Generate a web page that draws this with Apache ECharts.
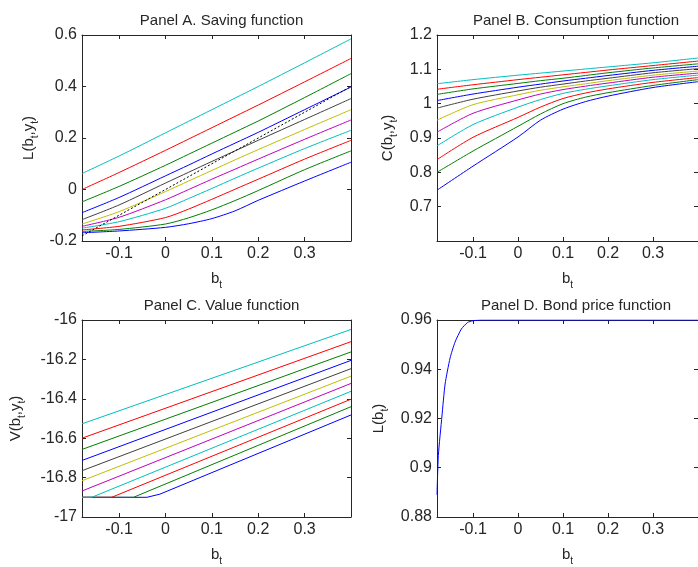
<!DOCTYPE html>
<html>
<head>
<meta charset="utf-8">
<script src="https://cdn.jsdelivr.net/npm/echarts@6/dist/echarts.min.js"></script>
<style>
  html, body { margin: 0; padding: 0; background: #fff; }
  #chart { width: 698px; height: 567px; }
</style>
</head>
<body>
<div id="chart"></div>
<script>
// shared grid of b_t values for panels A and B
const bGrid = [-0.18, -0.1, 0, 0.05, 0.1, 0.15, 0.2, 0.3, 0.4]
const xTicks = [-0.1, 0, 0.1, 0.2, 0.3]

// Panel A: saving function, one row per income state (bottom -> top)
const savingCurves = [
  [-0.168, -0.161, -0.147, -0.133, -0.113, -0.083, -0.042, 0.033, 0.106],
  [-0.163, -0.155, -0.134, -0.110, -0.079, -0.043, -0.004, 0.077, 0.150],
  [-0.157, -0.143, -0.109, -0.076, -0.038, 0.001, 0.040, 0.118, 0.191],
  [-0.150, -0.125, -0.073, -0.035, 0.004, 0.044, 0.083, 0.159, 0.230],
  [-0.143, -0.108, -0.040, 0.000, 0.040, 0.079, 0.118, 0.195, 0.270],
  [-0.134, -0.086, -0.008, 0.033, 0.074, 0.115, 0.155, 0.233, 0.310],
  [-0.117, -0.060, 0.025, 0.067, 0.109, 0.150, 0.191, 0.272, 0.353],
  [-0.090, -0.031, 0.053, 0.095, 0.138, 0.180, 0.222, 0.310, 0.398],
  [-0.048, 0.012, 0.094, 0.137, 0.180, 0.223, 0.266, 0.357, 0.450],
  [0.000, 0.066, 0.152, 0.196, 0.240, 0.284, 0.328, 0.418, 0.509],
  [0.062, 0.130, 0.220, 0.265, 0.310, 0.355, 0.400, 0.492, 0.585]
]
const diagonal = [-0.18, 0.4]

// Panel B: consumption function
const consumptionCurves = [
  [0.748, 0.818, 0.903, 0.952, 0.984, 1.006, 1.022, 1.047, 1.064],
  [0.800, 0.862, 0.934, 0.970, 1.000, 1.019, 1.032, 1.053, 1.070],
  [0.837, 0.902, 0.960, 0.990, 1.015, 1.031, 1.043, 1.062, 1.076],
  [0.877, 0.939, 0.990, 1.012, 1.030, 1.042, 1.052, 1.070, 1.083],
  [0.917, 0.972, 1.011, 1.028, 1.041, 1.051, 1.060, 1.077, 1.089],
  [0.952, 0.997, 1.026, 1.039, 1.049, 1.058, 1.067, 1.083, 1.095],
  [0.987, 1.013, 1.037, 1.048, 1.057, 1.066, 1.074, 1.090, 1.102],
  [1.009, 1.028, 1.048, 1.057, 1.066, 1.074, 1.082, 1.097, 1.109],
  [1.027, 1.043, 1.059, 1.067, 1.074, 1.082, 1.090, 1.104, 1.116],
  [1.042, 1.055, 1.070, 1.077, 1.084, 1.091, 1.098, 1.111, 1.124],
  [1.058, 1.070, 1.083, 1.089, 1.095, 1.101, 1.107, 1.119, 1.133]
]

// Panel C: value function, [b, V] knots (flat at the default value, then linear)
const valueCurves = [
  [[-0.18, -16.9], [-0.04, -16.9], [-0.012, -16.884], [0.4, -16.482]],
  [[-0.18, -16.9], [-0.069, -16.9], [0.4, -16.44]],
  [[-0.18, -16.9], [-0.116, -16.9], [0.4, -16.402]],
  [[-0.18, -16.9], [-0.159, -16.9], [0.4, -16.362]],
  [[-0.18, -16.868], [0.4, -16.322]],
  [[-0.18, -16.816], [0.4, -16.285]],
  [[-0.18, -16.765], [0.4, -16.247]],
  [[-0.18, -16.713], [0.4, -16.205]],
  [[-0.18, -16.657], [0.4, -16.162]],
  [[-0.18, -16.6], [0.4, -16.11]],
  [[-0.18, -16.527], [0.4, -16.048]]
]

// Panel D: bond price function
const bondB = [-0.18, -0.177, -0.169, -0.162, -0.151, -0.14, -0.126, -0.112, -0.1, -0.08, 0.4]
const bondPrice = [0.889, 0.905, 0.921, 0.934, 0.9445, 0.951, 0.9563, 0.959, 0.9597, 0.96, 0.96]

const lineColors = ['#0000ff', '#008000', '#ff0000', '#00bfbf', '#bf00bf', '#bfbf00', '#404040',
  '#0000ff', '#008000', '#ff0000', '#00bfbf']

const FONT = '"Liberation Sans", Arial, sans-serif'
const INK = '#262626'
const chart = echarts.init(document.getElementById('chart'))

const grids = [
  { left: 82, top: 35, width: 269, height: 206 },
  { left: 437, top: 35, width: 268, height: 206 },
  { left: 82, top: 320, width: 269, height: 204 },
  { left: 437, top: 320, width: 268, height: 204 }
]
const titles = ['Panel A. Saving function', 'Panel B. Consumption function',
  'Panel C. Value function', 'Panel D. Bond price function']
const yNames = ['L(b{s|t},y{s|t})', 'C(b{s|t},y{s|t})', 'V(b{s|t},y{s|t})', 'L(b{s|t})']
const yNameGaps = [42, 38, 55, 47]
const yRanges = [
  { min: -0.2, max: 0.6, interval: 0.2 },
  { min: 0.6, max: 1.2, interval: 0.1 },
  { min: -17, max: -16, interval: 0.2 },
  { min: 0.88, max: 0.96, interval: 0.02 }
]

const nameStyle = {
  fontSize: 15, color: INK, fontFamily: FONT, lineHeight: 22,
  rich: { s: { fontSize: 10, lineHeight: 10, verticalAlign: 'bottom', color: INK, fontFamily: FONT } }
}
const lineStyleAxis = { color: INK, width: 1 }

const xAxes = []
const yAxes = []
grids.forEach((g, i) => {
  xAxes.push({
    type: 'value', gridIndex: i, min: -0.18, max: 0.4, position: 'bottom',
    name: 'b{s|t}', nameLocation: 'middle', nameGap: 27, nameTextStyle: nameStyle,
    axisLine: { show: true, onZero: false, lineStyle: lineStyleAxis },
    axisTick: { show: true, inside: true, length: 4, customValues: xTicks, lineStyle: lineStyleAxis },
    axisLabel: { customValues: xTicks, fontSize: 16, color: INK, fontFamily: FONT, margin: 5 },
    splitLine: { show: false }
  })
  xAxes.push({
    type: 'value', gridIndex: i, min: -0.18, max: 0.4, position: 'top',
    axisLine: { show: true, onZero: false, lineStyle: lineStyleAxis },
    axisTick: { show: true, inside: true, length: 4, customValues: xTicks, lineStyle: lineStyleAxis },
    axisLabel: { show: false },
    splitLine: { show: false }
  })
  const r = yRanges[i]
  yAxes.push({
    type: 'value', gridIndex: i, min: r.min, max: r.max, interval: r.interval, position: 'left',
    name: yNames[i], nameLocation: 'middle', nameRotate: 90, nameGap: yNameGaps[i], nameTextStyle: nameStyle,
    axisLine: { show: true, onZero: false, lineStyle: lineStyleAxis },
    axisTick: { show: true, inside: true, length: 4, lineStyle: lineStyleAxis },
    axisLabel: {
      fontSize: 16, color: INK, fontFamily: FONT, margin: 5,
      showMinLabel: i !== 1
    },
    splitLine: { show: false }
  })
  yAxes.push({
    type: 'value', gridIndex: i, min: r.min, max: r.max, interval: r.interval, position: 'right',
    axisLine: { show: true, onZero: false, lineStyle: lineStyleAxis },
    axisTick: { show: true, inside: true, length: 4, lineStyle: lineStyleAxis },
    axisLabel: { show: false },
    splitLine: { show: false }
  })
})

const series = []
const addLine = (panel, data, color, extra) => {
  series.push(Object.assign({
    type: 'line', xAxisIndex: panel * 2, yAxisIndex: panel * 2, data: data,
    showSymbol: false, symbol: 'none', silent: true, clip: true,
    lineStyle: { color: color, width: 1 }
  }, extra || {}))
}
savingCurves.forEach((row, k) => {
  addLine(0, row.map((v, j) => [bGrid[j], v]), lineColors[k], { smooth: 0.25 })
})
addLine(0, diagonal.map(v => [v, v]), '#000000', { lineStyle: { color: '#000', width: 1, type: [2, 2] } })
consumptionCurves.forEach((row, k) => {
  addLine(1, row.map((v, j) => [bGrid[j], v]), lineColors[k], { smooth: 0.25 })
})
valueCurves.forEach((pts, k) => {
  addLine(2, pts, lineColors[k])
})
addLine(3, bondB.map((b, j) => [b, bondPrice[j]]), '#0000ff', { smooth: 0.2 })

chart.setOption({
  animation: false,
  backgroundColor: '#fff',
  title: titles.map((t, i) => ({
    text: t,
    left: grids[i].left + grids[i].width / 2,
    top: grids[i].top - 27,
    textAlign: 'center',
    textStyle: { fontSize: 15, fontWeight: 'normal', color: INK, fontFamily: FONT }
  })),
  grid: grids,
  xAxis: xAxes,
  yAxis: yAxes,
  series: series
})
</script>
</body>
</html>
